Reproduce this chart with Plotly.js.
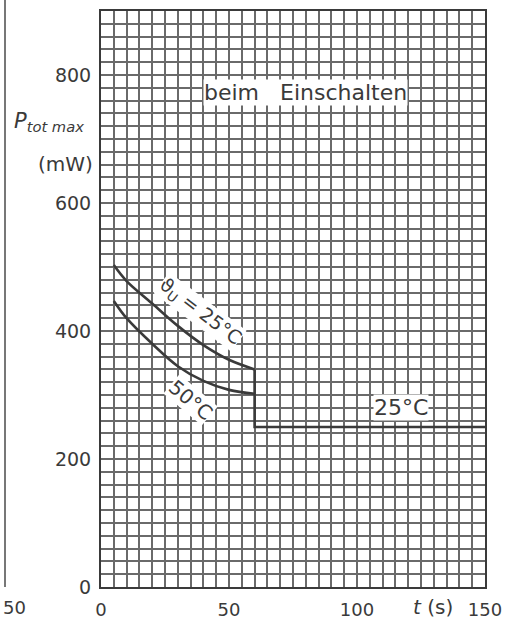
<!DOCTYPE html>
<html>
<head>
<meta charset="utf-8">
<script src="https://cdn.plot.ly/plotly-3.0.1.min.js"></script>
<style>html,body{margin:0;padding:0;background:#fff;}#chart{width:507px;height:623px;}</style>
</head>
<body>
<div id="chart"></div>
<script>
// Data
const tCurve = [5, 10, 20, 30, 40, 50, 60];
const p25 = [503, 478, 443, 408, 378, 355, 340];
const p50 = [447, 420, 380, 345, 322, 308, 302];
const tStep = [60, 60, 150];
const pStep = [340, 250, 250];
const xTicks = [0, 50, 100, 150];
const yTicks = [0, 200, 400, 600, 800];

const L = 101, T = 11, W = 384, H = 576;
const px = v => (v - L) / W;
const py = v => (T + H - v) / H;
const ink = '#3a3a3a';
const fontFam = 'DejaVu Sans, sans-serif';

const lineStyle = {color: ink, width: 2.6};
const traces = [
  {x: tCurve, y: p25, mode: 'lines', line: Object.assign({shape: 'spline'}, lineStyle), hoverinfo: 'skip'},
  {x: tCurve, y: p50, mode: 'lines', line: Object.assign({shape: 'spline'}, lineStyle), hoverinfo: 'skip'},
  {x: tStep, y: pStep, mode: 'lines', line: lineStyle, hoverinfo: 'skip'}
];

const grid = {color: '#6a6a6a', width: 2};
const layout = {
  width: 507, height: 623,
  margin: {l: L, r: 507 - L - W, t: T, b: 623 - T - H},
  paper_bgcolor: '#fff', plot_bgcolor: '#fff',
  showlegend: false,
  font: {family: fontFam, color: ink, size: 18},
  xaxis: {
    range: [0, 150], tickvals: xTicks, ticktext: ['0', '50', '100', '150'],
    showgrid: true, gridcolor: grid.color, gridwidth: grid.width,
    minor: {dtick: 5, showgrid: true, gridcolor: grid.color, gridwidth: grid.width},
    zeroline: false, showline: true, linecolor: ink, linewidth: 2, mirror: true,
    ticks: '', ticklabelstandoff: 5, tickfont: {size: 18, color: ink}
  },
  yaxis: {
    range: [0, 900], tickvals: yTicks,
    showgrid: true, gridcolor: grid.color, gridwidth: grid.width,
    minor: {dtick: 20, showgrid: true, gridcolor: grid.color, gridwidth: grid.width},
    zeroline: false, showline: true, linecolor: ink, linewidth: 2, mirror: true,
    ticks: '', ticklabelstandoff: 4, tickfont: {size: 19, color: ink}
  },
  shapes: [
    {type: 'line', xref: 'paper', yref: 'paper', x0: px(5), x1: px(5), y0: py(0), y1: py(587), line: {color: '#777', width: 2}}
  ],
  annotations: [
    {xref: 'x', yref: 'y', x: 80, y: 773, text: 'beim   Einschalten', showarrow: false, bgcolor: '#fff', font: {size: 22, color: ink}, borderpad: 0},
    {xref: 'x', yref: 'y', x: 117, y: 280, text: '25°C', showarrow: false, bgcolor: '#fff', font: {size: 22, color: ink}, borderpad: 0},
    {xref: 'x', yref: 'y', x: 38.5, y: 430, text: 'ϑ<sub>U</sub> = 25°C', textangle: 37, showarrow: false, bgcolor: '#fff', font: {size: 19, color: ink}, borderpad: 0},
    {xref: 'x', yref: 'y', x: 35, y: 292, text: '50°C', textangle: 40, showarrow: false, bgcolor: '#fff', font: {size: 20, color: ink}, borderpad: 0},
    {xref: 'paper', yref: 'paper', x: px(433), y: py(607), xanchor: 'center', yanchor: 'middle', text: '<i>t</i> (s)', showarrow: false, font: {size: 20, color: ink}},
    {xref: 'paper', yref: 'paper', x: px(49), y: py(122), xanchor: 'center', yanchor: 'middle', text: '<i>P</i><sub><i>tot max</i></sub>', showarrow: false, font: {size: 21, color: ink}},
    {xref: 'paper', yref: 'paper', x: px(65), y: py(164), xanchor: 'center', yanchor: 'middle', text: '(mW)', showarrow: false, font: {size: 20, color: ink}},
    {xref: 'paper', yref: 'paper', x: px(14), y: py(607), xanchor: 'center', yanchor: 'middle', text: '50', showarrow: false, font: {size: 18, color: ink}}
  ]
};

Plotly.newPlot('chart', traces, layout, {staticPlot: true, displayModeBar: false});
</script>
</body>
</html>
